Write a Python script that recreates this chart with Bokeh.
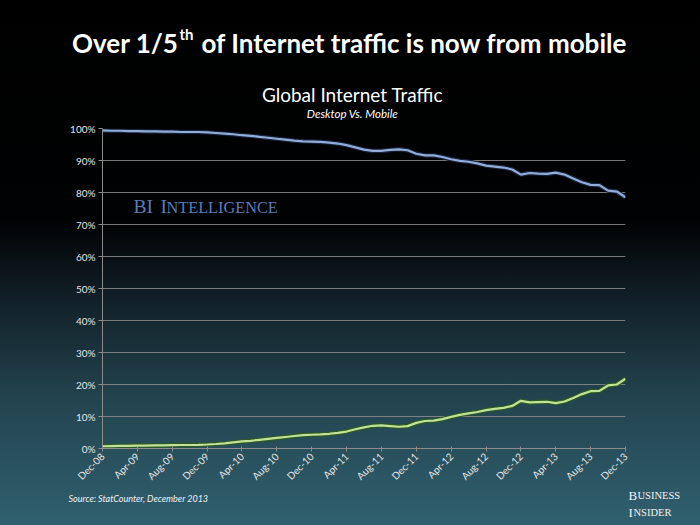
import numpy as np
import pandas as pd
from bokeh.plotting import figure
from bokeh.layouts import column
from bokeh.models import Range1d, FixedTicker, Label, ColumnDataSource
from bokeh.core.properties import value
from bokeh.embed import file_html
from bokeh.resources import INLINE

# ---------------- data ----------------
months = pd.date_range("2008-12-01", "2013-12-01", freq="MS").strftime("%b-%y").tolist()
tick_idx = list(range(0, 61, 4))
tick_labels = [months[i] for i in tick_idx]

desktop = [99.4, 99.3, 99.3, 99.2, 99.2, 99.1, 99.1, 99.0, 99.0, 98.9, 98.9, 98.9,
           98.8, 98.6, 98.4, 98.2, 97.9, 97.7, 97.4, 97.1, 96.8, 96.5, 96.2, 96.0,
           95.9, 95.8, 95.6, 95.3, 94.8, 94.1, 93.4, 93.0, 93.0, 93.3, 93.5, 93.2,
           92.1, 91.6, 91.6, 91.1, 90.4, 89.9, 89.6, 89.1, 88.4, 88.1, 87.8, 87.2,
           85.6, 86.1, 85.9, 85.8, 86.2, 85.6, 84.4, 83.2, 82.4, 82.3, 80.6, 80.3,
           78.5]
mobile = [0.7, 0.75, 0.8, 0.85, 0.9, 0.9, 0.95, 1.0, 1.05, 1.1, 1.1, 1.15,
          1.25, 1.4, 1.6, 1.9, 2.2, 2.4, 2.7, 3.0, 3.3, 3.6, 3.9, 4.2,
          4.3, 4.4, 4.6, 4.9, 5.3, 6.0, 6.6, 7.1, 7.2, 7.0, 6.8, 7.0,
          8.0, 8.6, 8.7, 9.2, 9.9, 10.5, 11.0, 11.4, 12.0, 12.4, 12.7, 13.3,
          14.9, 14.4, 14.5, 14.6, 14.2, 14.7, 15.8, 17.0, 17.9, 18.0, 19.7, 20.0,
          21.8]
y_ticks = list(range(0, 101, 10))

src = ColumnDataSource(dict(x=list(range(len(months))), month=months,
                            desktop=desktop, mobile=mobile))

W = 700
TOP_H = 122
L, R = 102, 75
FRAME_W, FRAME_H = 523, 320
MT, MB = 6, 41
BOT_H = 525 - TOP_H - MT - FRAME_H - MB


def text_fig(h):
    f = figure(width=W, height=h, output_backend="svg", toolbar_location=None,
               x_range=Range1d(0, W), y_range=Range1d(h, 0),
               x_axis_type=None, y_axis_type=None,
               min_border=0, min_border_left=0, min_border_right=0,
               min_border_top=0, min_border_bottom=0)
    f.grid.visible = False
    f.outline_line_color = None
    f.border_fill_color = None
    f.background_fill_color = None
    return f


def put(f, txt, x, y, size, color="#ffffff", font="Lato", style="normal", align="left"):
    # y is the vertical middle of the text line
    f.text(x=[x], y=[y], text=[txt], text_font=value(font),
           text_font_size=value(f"{size}px"), text_font_style=value(style),
           text_color=color, text_align=value(align), text_baseline=value("middle"))


# ---------------- top texts ----------------
top = text_fig(TOP_H)
put(top, "Over 1/5", 178, 42, 26, style="bold", align="right")
put(top, "th", 179, 33, 15, style="bold")
put(top, "of Internet traffic is now from mobile", 201, 42, 26, style="bold")
put(top, "Global Internet Traffic", 352, 93.5, 19, align="center")
put(top, "Desktop Vs. Mobile", 352, 112.5, 11.5, style="italic", align="center")

# ---------------- main chart ----------------
p = figure(output_backend="svg", toolbar_location=None,
           x_range=Range1d(0, 60), y_range=Range1d(0, 100),
           frame_width=FRAME_W, frame_height=FRAME_H,
           min_border_left=L, min_border_right=R, min_border_top=MT, min_border_bottom=MB)
p.border_fill_color = None
p.background_fill_color = None
p.outline_line_color = None

p.line("x", "desktop", source=src, line_color="#17233a", line_width=4.5)
p.line("x", "desktop", source=src, line_color="#91acd8", line_width=2.2)
p.line("x", "mobile", source=src, line_color="#2f5a22", line_width=4.5)
p.line("x", "mobile", source=src, line_color="#c0e39a", line_width=2.2)

p.xgrid.visible = False
p.ygrid.ticker = FixedTicker(ticks=y_ticks)
p.ygrid.grid_line_color = "#8c8c8c"
p.ygrid.grid_line_width = 1
p.ygrid.grid_line_alpha = 0.85

yax = p.yaxis[0]
yax.ticker = FixedTicker(ticks=y_ticks)
yax.major_label_overrides = {v: f"{v}%" for v in y_ticks}
yax.axis_line_color = "#8c8c8c"
yax.major_tick_line_color = "#8c8c8c"
yax.major_tick_out = 4
yax.major_tick_in = 0
yax.minor_tick_line_color = None
yax.major_label_text_color = "#e4e4e4"
yax.major_label_text_font = "Lato"
yax.major_label_text_font_size = "10px"
yax.major_label_standoff = 3

xax = p.xaxis[0]
xax.ticker = FixedTicker(ticks=tick_idx)
xax.major_label_overrides = dict(zip(tick_idx, tick_labels))
xax.major_label_orientation = np.pi / 4
xax.axis_line_color = "#8c8c8c"
xax.major_tick_line_color = "#8c8c8c"
xax.major_tick_out = 3
xax.major_tick_in = 2
xax.minor_tick_line_color = None
xax.major_label_text_color = "#e4e4e4"
xax.major_label_text_font = "Lato"
xax.major_label_text_font_size = "10px"
xax.major_label_standoff = 3

# watermark inside the frame (page pixels -> data)
def dx(px):
    return (px - L) * 60 / FRAME_W

def dy(py):
    return (TOP_H + MT + FRAME_H - py) * 100 / FRAME_H

for txt, px, py, size in [("BI", 133, 206.2, 19.5), ("I", 160, 206.2, 19.5),
                          ("NTELLIGENCE", 166, 207.3, 16.3)]:
    p.add_layout(Label(x=dx(px), y=dy(py), text=txt, text_font="Liberation Serif",
                       text_font_size=f"{size}px", text_color="#5a7cb4",
                       text_baseline="middle"))

# ---------------- bottom texts ----------------
bot = text_fig(BOT_H)
off = 525 - BOT_H
put(bot, "Source: StatCounter, December 2013", 68, 497.5 - off, 9, style="italic", color="#f0f0f0")
put(bot, "B", 628, 494.5 - off, 13, color="#f2f2f2", font="Liberation Serif")
put(bot, "USINESS", 637, 495.3 - off, 10.5, color="#f2f2f2", font="Liberation Serif")
put(bot, "I", 628, 511.5 - off, 13, color="#f2f2f2", font="Liberation Serif")
put(bot, "NSIDER", 633, 512.3 - off, 10.5, color="#f2f2f2", font="Liberation Serif")

page = column(column(top, width=W, height=TOP_H), p, column(bot, width=W, height=BOT_H),
              spacing=0, width=W)
page.styles = {"background": "linear-gradient(to bottom, #000000 0%, #010203 42%, #12222a 58%, #23444f 76%, #30606f 100%)"}

open("out.html", "w").write(file_html(page, INLINE))
